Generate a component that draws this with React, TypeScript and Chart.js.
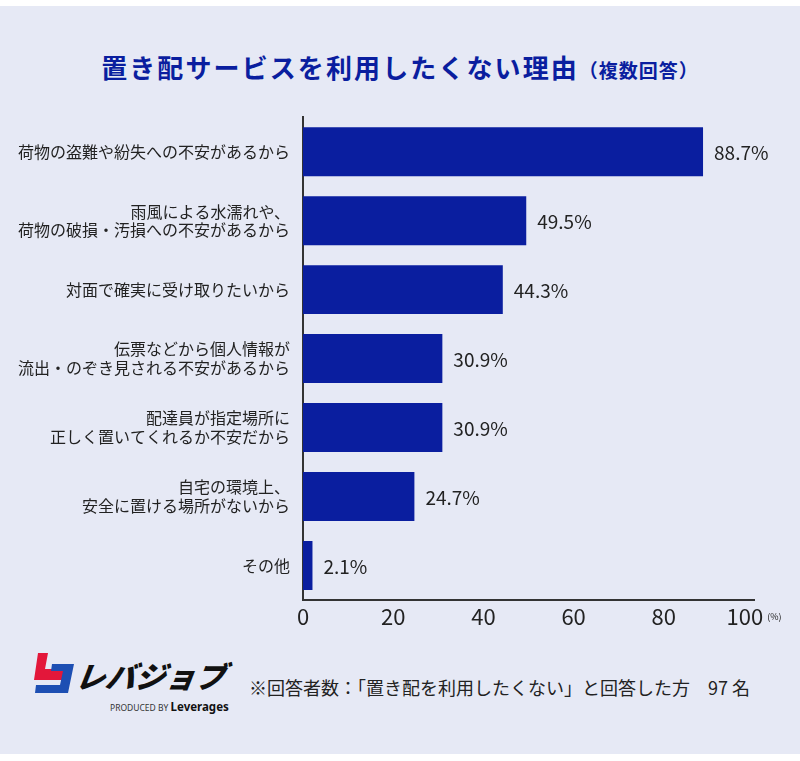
import React, { useEffect, useRef } from "react";
import { Chart, registerables } from "chart.js";

Chart.register(...registerables);

const categories: (string | string[])[] = [
  "荷物の盗難や紛失への不安があるから",
  ["雨風による水濡れや、", "荷物の破損・汚損への不安があるから"],
  "対面で確実に受け取りたいから",
  ["伝票などから個人情報が", "流出・のぞき見される不安があるから"],
  ["配達員が指定場所に", "正しく置いてくれるか不安だから"],
  ["自宅の環境上、", "安全に置ける場所がないから"],
  "その他",
];
const values: number[] = [88.7, 49.5, 44.3, 30.9, 30.9, 24.7, 2.1];
const xTicks: number[] = [0, 20, 40, 60, 80, 100];
const unitLabel = "(%)";

const FONT = '"Noto Sans CJK JP", "Noto Sans", sans-serif';
const BAR = "#0a1e9f";
const TEXT = "#222222";

export default function App() {
  const ref = useRef<HTMLCanvasElement | null>(null);

  useEffect(() => {
    if (!ref.current) return;
    const labelPlugin = {
      id: "customLabels",
      afterDatasetsDraw(chart: any) {
        const ctx = chart.ctx;
        const meta = chart.getDatasetMeta(0);
        ctx.save();
        ctx.fillStyle = TEXT;
        ctx.font = `19px ${FONT}`;
        ctx.textAlign = "left";
        ctx.textBaseline = "middle";
        meta.data.forEach((el: any, i: number) => {
          ctx.fillText(values[i].toFixed(1) + "%", el.x + 11, el.y + 1);
        });
        ctx.restore();
      },
      afterDraw(chart: any) {
        const ctx = chart.ctx;
        const xs = chart.scales.x;
        const y = chart.chartArea.bottom + 17;
        ctx.save();
        ctx.fillStyle = TEXT;
        ctx.textBaseline = "middle";
        xTicks.forEach((v, i) => {
          const px = xs.getPixelForValue(v);
          const txt = String(v);
          ctx.font = `22px ${FONT}`;
          if (i === xTicks.length - 1) {
            const w1 = ctx.measureText(txt).width;
            ctx.font = `9px ${FONT}`;
            const w2 = ctx.measureText(unitLabel).width;
            const gap = 4;
            const start = px - (w1 + gap + w2) / 2;
            ctx.textAlign = "left";
            ctx.font = `22px ${FONT}`;
            ctx.fillText(txt, start, y);
            ctx.font = `9px ${FONT}`;
            ctx.fillText(unitLabel, start + w1 + gap, y);
          } else {
            ctx.textAlign = "center";
            ctx.fillText(txt, px, y);
          }
        });
        ctx.restore();
      },
    };

    const chart = new Chart(ref.current, {
      type: "bar",
      data: {
        labels: categories as any,
        datasets: [
          {
            data: values,
            backgroundColor: BAR,
            borderWidth: 0,
            barPercentage: 0.71,
            categoryPercentage: 1,
          },
        ],
      },
      options: {
        indexAxis: "y",
        responsive: false,
        animation: false,
        layout: { padding: { left: 0, top: 22, right: 46, bottom: 0 } },
        plugins: {
          legend: { display: false },
          tooltip: { enabled: false },
          title: { display: false },
        },
        scales: {
          y: {
            type: "category",
            grid: { display: false, drawTicks: false, tickLength: 0 },
            border: { display: true, color: "#333333", width: 2 },
            ticks: {
              color: TEXT,
              padding: 13,
              font: { family: FONT, size: 16, lineHeight: 1.15 },
            },
            afterFit(scale: any) {
              scale.width = 303;
            },
          },
          x: {
            type: "linear",
            min: 0,
            max: 100,
            grid: { display: false, drawTicks: false, tickLength: 0 },
            border: { display: true, color: "#333333", width: 2 },
            ticks: { display: false, stepSize: 20 },
            afterFit(scale: any) {
              scale.height = 40;
            },
          },
        },
      },
      plugins: [labelPlugin],
    });
    return () => chart.destroy();
  }, []);

  return (
    <div
      style={{
        position: "absolute",
        left: 0,
        top: 0,
        width: 800,
        height: 761,
        background: "#ffffff",
        fontFamily: FONT,
      }}
    >
      <div
        style={{
          position: "absolute",
          left: 0,
          top: 6,
          width: 800,
          height: 748,
          background: "#e6e9f5",
        }}
      />
      <div
        style={{
          position: "absolute",
          left: 0,
          top: 45,
          width: 800,
          height: 44,
          lineHeight: "44px",
          textAlign: "center",
          color: BAR,
          fontWeight: 700,
          fontSize: 26,
          letterSpacing: 2.1,
          whiteSpace: "nowrap",
        }}
      >
        置き配サービスを利用したくない理由
        <span style={{ fontSize: 19, letterSpacing: 1 }}>（複数回答）</span>
      </div>
      <canvas
        ref={ref}
        width={800}
        height={545}
        style={{ position: "absolute", left: 0, top: 95, width: 800, height: 545 }}
      />
      {/* logo */}
      <svg
        width={42}
        height={42}
        viewBox="0 0 42 42"
        style={{ position: "absolute", left: 33, top: 652 }}
      >
        <polygon points="5,1 15,1 12,17 31,17 29,28 1,28" fill="#e3173a" />
        <polygon points="19,12 41,12 35,41 2,41 3,33 27,33 30,19 18,19" fill="#1d4fb3" />
      </svg>
      <div
        style={{
          position: "absolute",
          left: 76,
          top: 657,
          fontSize: 30,
          lineHeight: "36px",
          fontWeight: 900,
          fontStyle: "italic",
          color: "#111",
          letterSpacing: 0,
          transform: "skewX(-8deg)",
          whiteSpace: "nowrap",
        }}
      >
        レバジョブ
      </div>
      <div
        style={{
          position: "absolute",
          left: 110,
          top: 700,
          fontSize: 8.5,
          lineHeight: "14px",
          color: "#333",
          whiteSpace: "nowrap",
          fontFamily: '"Noto Sans", sans-serif',
        }}
      >
        PRODUCED BY{" "}
        <span style={{ fontSize: 11.5, fontWeight: 700, color: "#111" }}>Leverages</span>
      </div>
      <div
        style={{
          position: "absolute",
          left: 249,
          top: 675,
          fontSize: 18,
          lineHeight: "24px",
          color: TEXT,
          whiteSpace: "nowrap",
        }}
      >
        ※回答者数：「置き配を利用したくない」と回答した方　97 名
      </div>
    </div>
  );
}
